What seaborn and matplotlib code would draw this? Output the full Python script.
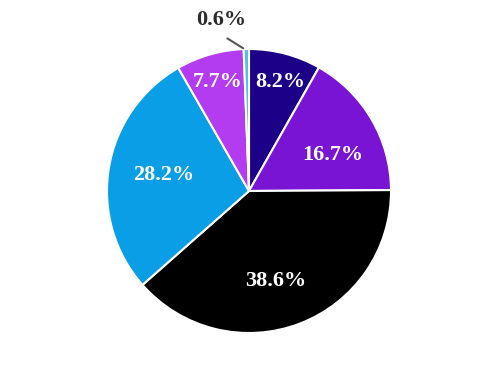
import matplotlib
matplotlib.use("Agg")
import matplotlib.pyplot as plt
import seaborn as sns

sns.set_style("white")
plt.rcParams['font.family'] = ['Liberation Serif', 'DejaVu Serif']

categories = ["A", "B", "C", "D", "E", "F"]
values = [8.2, 16.7, 38.6, 28.2, 7.7, 0.6]
labels = ["8.2%", "16.7%", "38.6%", "28.2%", "7.7%", "0.6%"]
colors = ["#1c0088", "#7914d4", "#000000", "#0a9ee6", "#b43cf0", "#4cbdf0"]

# label positions (layout) in pie-radius units
label_pos = [(0.218, 0.768), (0.592, 0.254), (0.190, -0.634),
             (-0.599, 0.113), (-0.218, 0.768), (-0.194, 1.204)]

fig = plt.figure(figsize=(4.98, 3.84), dpi=100)
ax = fig.add_axes([107/498, 51/384, 284/498, 284/384])
wedges, _ = ax.pie(values, colors=colors, startangle=90, counterclock=False,
                   radius=1.0, wedgeprops=dict(edgecolor="white", linewidth=1.5))
ax.set_xlim(-1, 1)
ax.set_ylim(-1, 1)
ax.set_aspect("equal")
ax.axis("off")

for i, (lab, (x, y)) in enumerate(zip(labels, label_pos)):
    col = "white" if i < 5 else "#2b2b2b"
    ax.text(x, y, lab, ha="center", va="center", fontsize=16,
            fontweight="bold", color=col, clip_on=False)

# leader line for small slice
ax.annotate("", xy=(-0.025, 0.995), xytext=(-0.169, 1.085),
            arrowprops=dict(arrowstyle="-", color="#555555", lw=1.5),
            annotation_clip=False)

fig.savefig("out.png", dpi=100)
